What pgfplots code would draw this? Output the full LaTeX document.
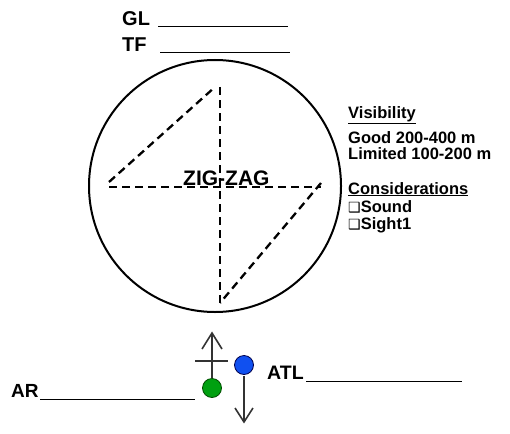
\documentclass[border=0pt]{standalone}
\usepackage{pgfplots}
\pgfplotsset{compat=1.18}
\usepackage{fontspec}
\setmainfont{Liberation Sans}
\newfontfamily\djv{DejaVu Sans}
\definecolor{dgreen}{HTML}{00A010}
\definecolor{dblue}{HTML}{1050F0}
\definecolor{agray}{HTML}{333333}
\begin{document}
\begin{tikzpicture}
\begin{axis}[hide axis, scale only axis, width=510pt, height=433pt,
  xmin=0, xmax=510, ymin=0, ymax=433, y dir=reverse, clip=false]
\addplot[draw=none] coordinates {(0,0) (510,433)};
% big circle
\draw[line width=2pt] (axis cs:215,186) circle[radius=126];
% zig-zag dashed lines
\addplot[black, line width=2.3pt, dash pattern=on 8pt off 5pt] coordinates {(220,87) (220,303)};
\addplot[black, line width=2.3pt, dash pattern=on 8pt off 5pt] coordinates {(109,187) (321,187)};
\addplot[black, line width=2.3pt, dash pattern=on 8pt off 5pt] coordinates {(109,182) (215,87)};
\addplot[black, line width=2.3pt, dash pattern=on 8pt off 5pt] coordinates {(321,183) (220,303)};
\node[anchor=base west, font=\fontsize{21}{21}\selectfont\bfseries, inner sep=0pt] at (axis cs:183,185) {ZIG-ZAG};
% GL / TF
\node[anchor=base west, font=\fontsize{20}{20}\selectfont\bfseries, inner sep=0pt] at (axis cs:122,26) {GL};
\node[anchor=base west, font=\fontsize{20}{20}\selectfont\bfseries, inner sep=0pt] at (axis cs:122,52) {TF};
\addplot[black, line width=1pt] coordinates {(158,27) (288,27)};
\addplot[black, line width=1pt] coordinates {(160,53) (290,53)};
% right text
\begin{scope}[every node/.style={anchor=base west, inner sep=0pt, font=\fontsize{16.5}{16.5}\selectfont\bfseries}]
\node at (axis cs:348,118) {\underline{Visibility}};
\node at (axis cs:348,143) {Good 200-400 m};
\node at (axis cs:348,159) {Limited 100-200 m};
\node at (axis cs:348,194) {\underline{Considerations}};
\node at (axis cs:348,212) {{\djv\fontsize{14}{14}\selectfont ❑}Sound};
\node at (axis cs:348,229) {{\djv\fontsize{14}{14}\selectfont ❑}Sight1};
\end{scope}
% bottom
\node[anchor=base west, font=\fontsize{19}{19}\selectfont\bfseries, inner sep=0pt] at (axis cs:11,397) {AR};
\addplot[black, line width=1pt] coordinates {(40,399) (195,399)};
\node[anchor=base west, font=\fontsize{19.5}{19.5}\selectfont\bfseries, inner sep=0pt] at (axis cs:267,379) {ATL};
\addplot[black, line width=1pt] coordinates {(306,381) (462,381)};
% arrows
\addplot[agray, line width=1.6pt] coordinates {(212,333) (212,378)};
\addplot[agray, line width=1.6pt] coordinates {(195,361) (228,361)};
\addplot[agray, line width=1.6pt] coordinates {(202,349) (212,333) (222,349)};
\addplot[agray, line width=1.6pt] coordinates {(244,376) (244,422)};
\addplot[agray, line width=1.6pt] coordinates {(235,408) (244,422) (253,408)};
% circles
\addplot[only marks, mark=*, mark size=9.5pt, mark options={fill=dgreen, draw=black!70!green, line width=0.8pt}] coordinates {(212,388)};
\addplot[only marks, mark=*, mark size=9.5pt, mark options={fill=dblue, draw=black!70!blue, line width=0.8pt}] coordinates {(244,365)};
\end{axis}
\end{tikzpicture}
\end{document}
